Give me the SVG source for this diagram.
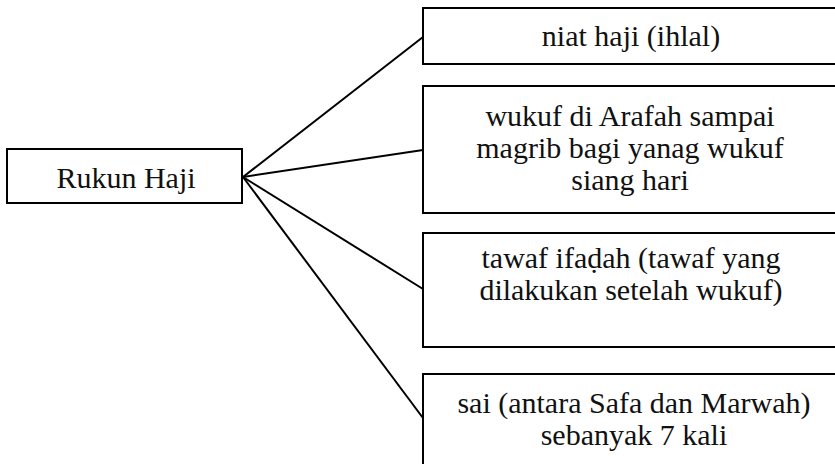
<svg xmlns="http://www.w3.org/2000/svg" width="835" height="464" viewBox="0 0 835 464">
<style>
.box{fill:#fff;stroke:#000;stroke-width:2}
.conn line{stroke:#000;stroke-width:2}
text{font-family:"Times New Roman","Liberation Serif",Tinos,"DejaVu Serif",serif;font-size:30px;fill:#111;text-anchor:middle}
</style>
<rect width="835" height="464" fill="#fff"/>
<g id="connectors" class="conn">
<line x1="243" y1="177" x2="423" y2="37"/>
<line x1="243" y1="177" x2="423" y2="150"/>
<line x1="243" y1="177" x2="423" y2="289"/>
<line x1="243" y1="177" x2="423" y2="418"/>
</g>
<g id="root">
<rect class="box" x="7" y="149" width="235" height="54"/>
<text x="126" y="188">Rukun Haji</text>
</g>
<g id="n1">
<rect class="box" x="423" y="8" width="420" height="56"/>
<text x="631" y="46">niat haji (ihlal)</text>
</g>
<g id="n2">
<rect class="box" x="423" y="86" width="420" height="127"/>
<text x="630" y="126">wukuf di Arafah sampai</text>
<text x="630" y="158">magrib bagi yanag wukuf</text>
<text x="630" y="190">siang hari</text>
</g>
<g id="n3">
<rect class="box" x="423" y="233" width="420" height="114"/>
<text x="631" y="268">tawaf ifaḍah (tawaf yang</text>
<text x="631" y="300">dilakukan setelah wukuf)</text>
</g>
<g id="n4">
<rect class="box" x="423" y="374" width="420" height="110"/>
<text x="634" y="413">sai (antara Safa dan Marwah)</text>
<text x="634" y="445">sebanyak 7 kali</text>
</g>
</svg>
